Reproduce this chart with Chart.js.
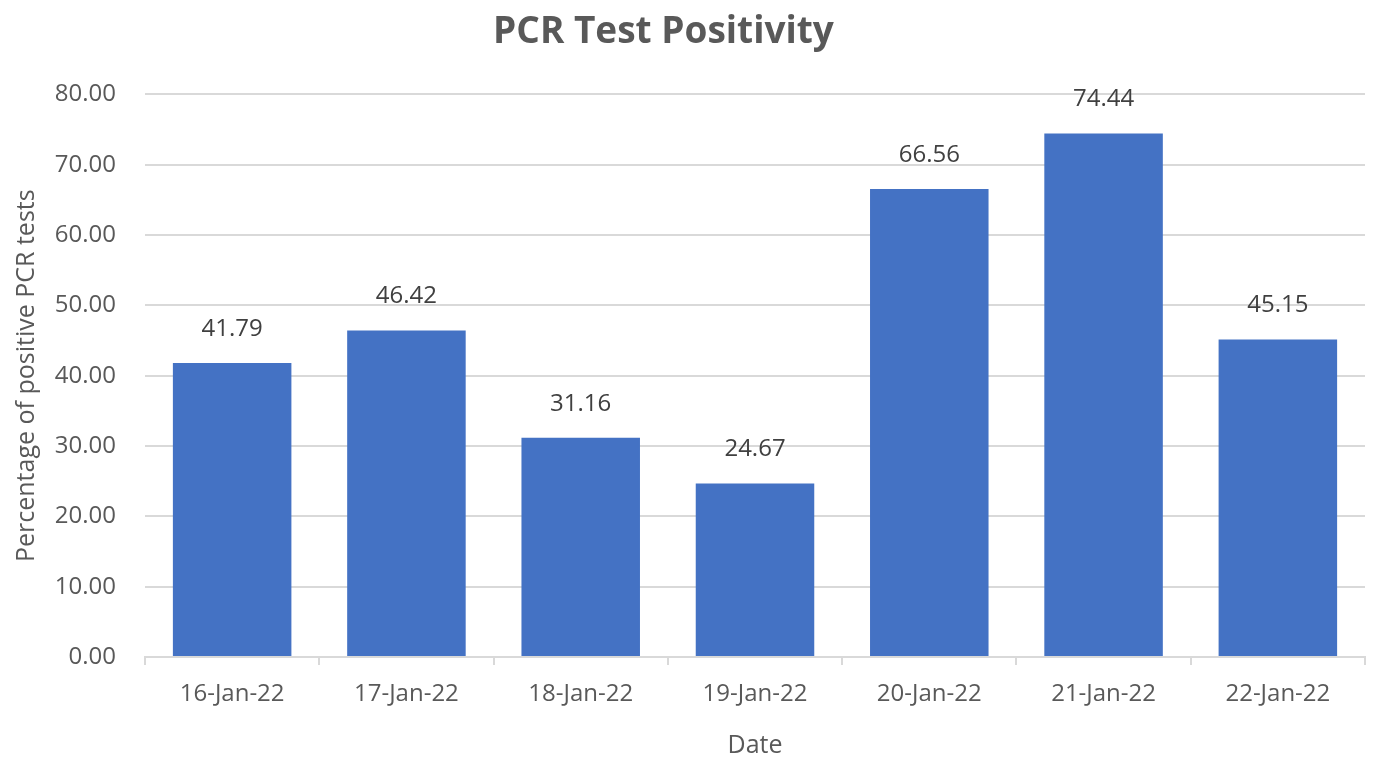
<!DOCTYPE html>
<html>
<head>
<meta charset="utf-8">
<script src="https://cdn.jsdelivr.net/npm/chart.js@4"></script>
<style>
  html, body { margin: 0; padding: 0; background: #fff; }
  #wrap { width: 1374px; height: 761px; }
</style>
</head>
<body>
<div id="wrap"><canvas id="chart"></canvas></div>
<script>
// --- data ---
const dates = ['16-Jan-22', '17-Jan-22', '18-Jan-22', '19-Jan-22', '20-Jan-22', '21-Jan-22', '22-Jan-22'];
const positivity = [41.79, 46.42, 31.16, 24.67, 66.56, 74.44, 45.15];
const yTicks = [0, 10, 20, 30, 40, 50, 60, 70, 80];

const FONT = "'Open Sans', 'Noto Sans', sans-serif";
const TEXT = '#595959';
const GRID = '#d9d9d9';

// value labels above each bar
const barLabels = {
  id: 'barLabels',
  afterDatasetsDraw(chart) {
    const c = chart.ctx;
    const meta = chart.getDatasetMeta(0);
    c.save();
    c.font = `24px ${FONT}`;
    c.fillStyle = '#404040';
    c.textAlign = 'center';
    c.textBaseline = 'middle';
    meta.data.forEach((bar, i) => {
      c.fillText(positivity[i].toFixed(2), bar.x, bar.y - 34);
    });
    c.restore();
  }
};

// the title sits a bit left of the canvas centre in the original
const titleShift = {
  id: 'titleShift',
  afterLayout(chart) {
    if (chart.titleBlock) {
      chart.titleBlock.left -= 38;
    }
  }
};

const ctx = document.getElementById('chart').getContext('2d');
new Chart(ctx, {
  type: 'bar',
  data: {
    labels: dates,
    datasets: [{
      label: 'PCR Test Positivity',
      data: positivity,
      backgroundColor: '#4472c4',
      borderWidth: 0,
      categoryPercentage: 1,
      barPercentage: 0.68
    }]
  },
  options: {
    responsive: true,
    maintainAspectRatio: false,
    animation: false,
    layout: { padding: { left: 0, right: 9, top: 0, bottom: 0 } },
    plugins: {
      legend: { display: false },
      tooltip: { enabled: false },
      title: {
        display: true,
        text: 'PCR Test Positivity',
        color: TEXT,
        font: { family: FONT, size: 37, weight: 'bold' },
        padding: { top: 10, bottom: 40 }
      }
    },
    scales: {
      x: {
        grid: {
          offset: true,
          drawOnChartArea: false,
          drawTicks: true,
          tickLength: 8,
          color: GRID,
          lineWidth: 2
        },
        border: { color: GRID, width: 2 },
        ticks: { color: TEXT, font: { family: FONT, size: 24 }, padding: 15, maxRotation: 0 },
        title: {
          display: true,
          text: 'Date',
          color: TEXT,
          font: { family: FONT, size: 25 },
          padding: { top: 12, bottom: 0 }
        },
        afterFit(scale) { scale.height = 104; }
      },
      y: {
        min: 0,
        max: 80,
        afterBuildTicks(scale) { scale.ticks = yTicks.map(v => ({ value: v })); },
        grid: { color: GRID, lineWidth: 2, drawTicks: false },
        border: { display: false },
        ticks: {
          color: TEXT,
          font: { family: FONT, size: 24 },
          padding: 29,
          callback: v => Number(v).toFixed(2)
        },
        title: {
          display: true,
          text: 'Percentage of positive PCR tests',
          color: TEXT,
          font: { family: FONT, size: 25 },
          padding: { top: 12, bottom: 0 }
        },
        afterFit(scale) { scale.width = 145; }
      }
    }
  },
  plugins: [barLabels, titleShift]
});
</script>
</body>
</html>
